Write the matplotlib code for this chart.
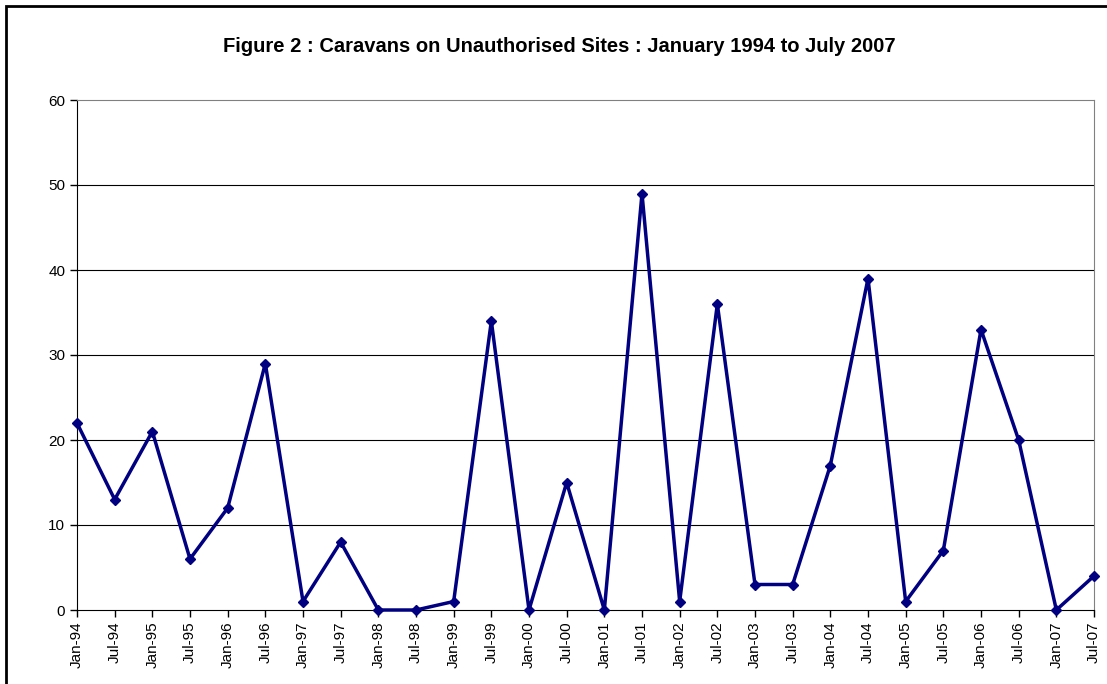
import matplotlib
matplotlib.use('Agg')
import matplotlib.pyplot as plt
from matplotlib.patches import Rectangle

plt.rcParams['font.family'] = ['Liberation Sans', 'DejaVu Sans']

labels = ['Jan-94', 'Jul-94', 'Jan-95', 'Jul-95', 'Jan-96', 'Jul-96', 'Jan-97',
          'Jul-97', 'Jan-98', 'Jul-98', 'Jan-99', 'Jul-99', 'Jan-00', 'Jul-00',
          'Jan-01', 'Jul-01', 'Jan-02', 'Jul-02', 'Jan-03', 'Jul-03', 'Jan-04',
          'Jul-04', 'Jan-05', 'Jul-05', 'Jan-06', 'Jul-06', 'Jan-07', 'Jul-07']
caravans = [22, 13, 21, 6, 12, 29, 1, 8, 0, 0, 1, 34, 0, 15, 0, 49, 1, 36,
            3, 3, 17, 39, 1, 7, 33, 20, 0, 4]

fig = plt.figure(figsize=(11.07, 6.84), dpi=100)
# outer chart border (only left and top edges are visible)
fig.patches.append(Rectangle((6 / 1107, -0.05), 1.2, 1 - 6 / 684 + 0.05,
                             transform=fig.transFigure, fill=False,
                             edgecolor='black', linewidth=2))

ax = fig.add_axes([77 / 1107, 1 - 610 / 684, (1094 - 77) / 1107, (610 - 100) / 684])
x = list(range(len(caravans)))
ax.plot(x, caravans, color='#000080', linewidth=2.5, marker='D', markersize=5,
        zorder=3, clip_on=False)

ax.set_xlim(0, len(caravans) - 1)
ax.set_ylim(0, 60)
ax.set_yticks(range(0, 61, 10))
ax.set_xticks(x)
ax.set_xticklabels(labels, rotation=90, fontsize=11)
ax.tick_params(axis='y', labelsize=11, direction='out', length=5, width=1)
ax.tick_params(axis='x', direction='out', length=5, width=1)

for y in range(10, 51, 10):
    ax.axhline(y, color='black', linewidth=0.8, zorder=1)

ax.spines['left'].set_color('black')
ax.spines['bottom'].set_color('black')
ax.spines['top'].set_color('#808080')
ax.spines['right'].set_color('#808080')

fig.text(559 / 1107, 1 - 47 / 684, 'Figure 2 : Caravans on Unauthorised Sites : January 1994 to July 2007',
         ha='center', va='center', fontsize=14.5, fontweight='bold')

fig.savefig('out.png', dpi=100)
